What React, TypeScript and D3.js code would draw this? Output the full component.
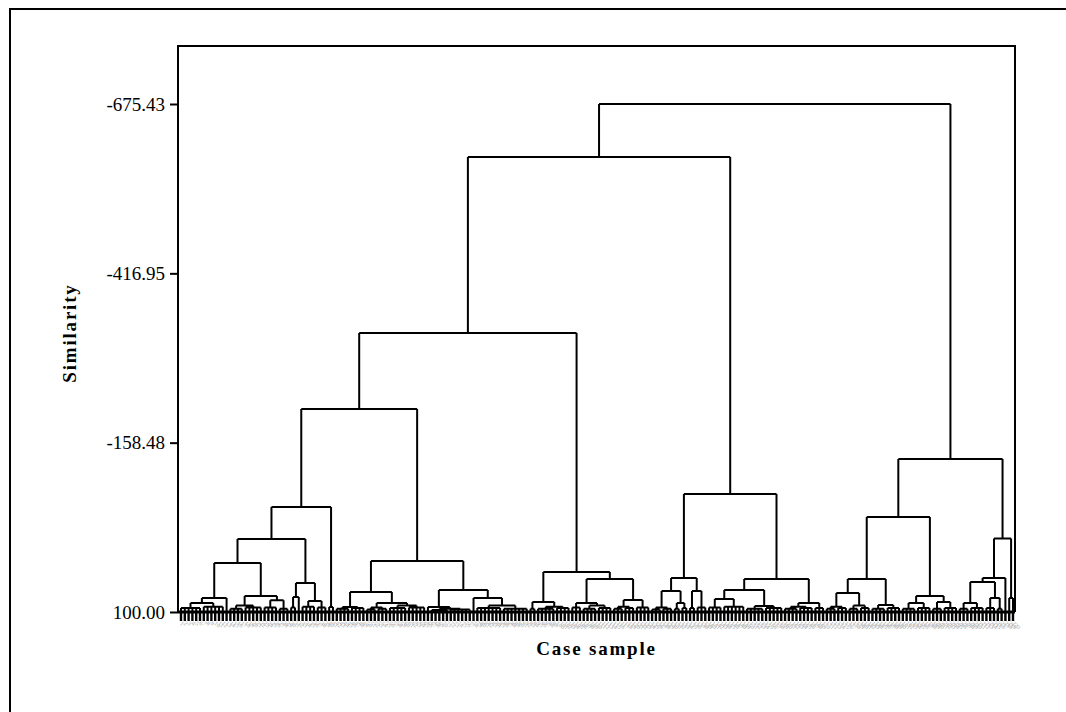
import { useEffect, useRef } from 'react';
import * as d3 from 'd3';

// a cluster is [merge height, ...children]; a bare number n stands for n single cases joined there
type Tree = (number | Tree)[];

const yTicks = [100, -158.48, -416.95, -675.43];
const yTitle = 'Similarity';
const xTitle = 'Case sample';

// left block
const p1Left: Tree = [78.6, [86.3, [94, 6], [92, 6]], 1];
const p1Right: Tree = [75.6, [90, [95, 4], [93, 5]], [82, [93, 4], [95, 3]]];
const p2: Tree = [55.7, [77.1, [93, 2], 1], [83.2, [92, 4], [93, 3]]];
const a111: Tree = [-60.3, [-11.4, [25.2, p1Left, p1Right], p2], [92.4, 2]];

const a112Left: Tree = [69.5, [92.4, [95, 4], [94, 4]], [86.3, [93, [96, 3], [95, 3]], [90, [94, 5], [93, 5]]]];
const a112Right: Tree = [66.4, [92.4, 1, [95, [97, 5], [96, 6]]], [78.6, 1, [90, [94, 7], [95, 7]]]];
const a112: Tree = [22.1, a112Left, a112Right];

const a12Left: Tree = [84.7, [95, 2], [92, [95, 5], [94, 4]]];
const a12Right: Tree = [49.6, [86.3, [93, 3], [90, [95, 4], [94, 4]]], [81.7, [92, [95, 3], [94, 3]], [93, 4]]];
const a12: Tree = [38.9, a12Left, a12Right];

// middle block
const a2Left: Tree = [48.1, [67.9, [93, [96, 3], [95, 3]], [86.3, [95, 2], [94, 2]]], [67.9, [94, 2], [93, 3]]];
const a2Right: Tree = [49.6, [66.4, [80.2, [93, 4], [92, 6]], [90.8, [95, 5], [94, 5]]], [86.3, [92, [95, 4], [94, 4]], [94, 3]]];
const a2: Tree = [-80.1, a2Left, a2Right];

// right block
const bLeft: Tree = [-45, [49.6, [71, [92, [95, 3], [94, 3]], [90, [95, 3], [94, 3]]], [89.3, [95, 4], [94, 4]]], [75.6, [86.3, [95, 4], [94, 4]], [84.7, [95, 3], [94, 4]]]];
const bRight: Tree = [-12.2, [48.1, [54.2, [86.3, [95, 3], [94, 4]], [78.6, [94, 3], [95, 2]]], 1], [78.6, 2]];
const b: Tree = [-133.6, bLeft, bRight];

const tree: Tree = [-675.43, [-594.6, [-325.9, [-209.9, a111, a112], a12], a2], b];

type N = { h?: number; children?: N[] };

function toNode(t: Tree): N {
  const [h, ...rest] = t;
  const children: N[] = [];
  rest.forEach((c) => {
    if (typeof c === 'number') for (let i = 0; i < c; i++) children.push({});
    else children.push(toNode(c));
  });
  return { h: h as number, children };
}

export default function App() {
  const ref = useRef<SVGSVGElement | null>(null);

  useEffect(() => {
    if (!ref.current) return;
    const font = '"Liberation Serif", "Times New Roman", serif';
    const box = { left: 178, right: 1015, top: 46, bottom: 612 };
    const leafEnd = 621;

    const svg = d3.select(ref.current);
    svg.selectAll('*').remove();

    // outer frame
    svg.append('path').attr('d', 'M10,712V9H1066').attr('fill', 'none').attr('stroke', '#000').attr('stroke-width', 2);

    const root = d3.hierarchy<N>(toNode(tree));
    const leaves = root.leaves();
    const x = d3
      .scalePoint<number>()
      .domain(leaves.map((_, i) => i))
      .range([181, 1013]);
    const y = d3.scaleLinear().domain([100, -675.43]).range([box.bottom, 104]);

    const pos = new Map<d3.HierarchyNode<N>, number>();
    leaves.forEach((l, i) => pos.set(l, x(i) as number));
    root.eachAfter((n) => {
      if (n.children) pos.set(n, (pos.get(n.children[0])! + pos.get(n.children[n.children.length - 1])!) / 2);
    });

    const segs: string[] = [];
    const stubs: string[] = [];
    root.each((n) => {
      if (!n.children) return;
      const yy = y(n.data.h!);
      const kids = n.children;
      segs.push(`M${pos.get(kids[0])},${yy}H${pos.get(kids[kids.length - 1])}`);
      kids.forEach((c) => {
        if (c.children) segs.push(`M${pos.get(c)},${yy}V${y(c.data.h!)}`);
        else {
          segs.push(`M${pos.get(c)},${yy}V${box.bottom}`);
          stubs.push(`M${pos.get(c)},${box.bottom}V${leafEnd}`);
        }
      });
    });

    svg
      .append('path')
      .attr('d', segs.join(''))
      .attr('fill', 'none')
      .attr('stroke', '#000')
      .attr('stroke-width', 2);
    svg
      .append('path')
      .attr('d', stubs.join(''))
      .attr('fill', 'none')
      .attr('stroke', '#000')
      .attr('stroke-width', 2.4);

    // plot frame
    svg
      .append('path')
      .attr('d', `M${box.left},${box.bottom}V${box.top}H${box.right}V${box.bottom}`)
      .attr('fill', 'none')
      .attr('stroke', '#000')
      .attr('stroke-width', 2);
    svg
      .append('line')
      .attr('x1', box.left)
      .attr('x2', box.right)
      .attr('y1', box.bottom)
      .attr('y2', box.bottom)
      .attr('stroke', '#000')
      .attr('stroke-width', 3);

    const ax = svg
      .append('g')
      .attr('transform', `translate(${box.left},0)`)
      .call(
        d3
          .axisLeft(y)
          .tickValues(yTicks)
          .tickSize(8)
          .tickPadding(5)
          .tickFormat((d) => (d as number).toFixed(2))
      );
    ax.select('.domain').remove();
    ax.selectAll('line').attr('stroke-width', 2);
    ax.selectAll('text').attr('font-family', font).attr('font-size', 19).attr('fill', '#000');

    // case labels
    svg
      .append('g')
      .selectAll('text')
      .data(leaves)
      .join('text')
      .attr('transform', (d) => `translate(${pos.get(d)! - 1.5},${leafEnd + 3}) rotate(40)`)
      .attr('font-family', font)
      .attr('font-size', 6)
      .attr('fill', '#aaa')
      .text((_, i) => String(i + 1));

    svg
      .append('text')
      .attr('x', (box.left + box.right) / 2)
      .attr('y', 655)
      .attr('text-anchor', 'middle')
      .attr('font-family', font)
      .attr('font-weight', 'bold')
      .attr('font-size', 19)
      .attr('letter-spacing', 1.8)
      .text(xTitle);

    svg
      .append('text')
      .attr('transform', `translate(76,333) rotate(-90)`)
      .attr('text-anchor', 'middle')
      .attr('font-family', font)
      .attr('font-weight', 'bold')
      .attr('font-size', 19)
      .attr('letter-spacing', 1.8)
      .text(yTitle);
  }, []);

  return <svg ref={ref} width={1066} height={712} style={{ position: 'absolute', left: 0, top: 0 }} />;
}
